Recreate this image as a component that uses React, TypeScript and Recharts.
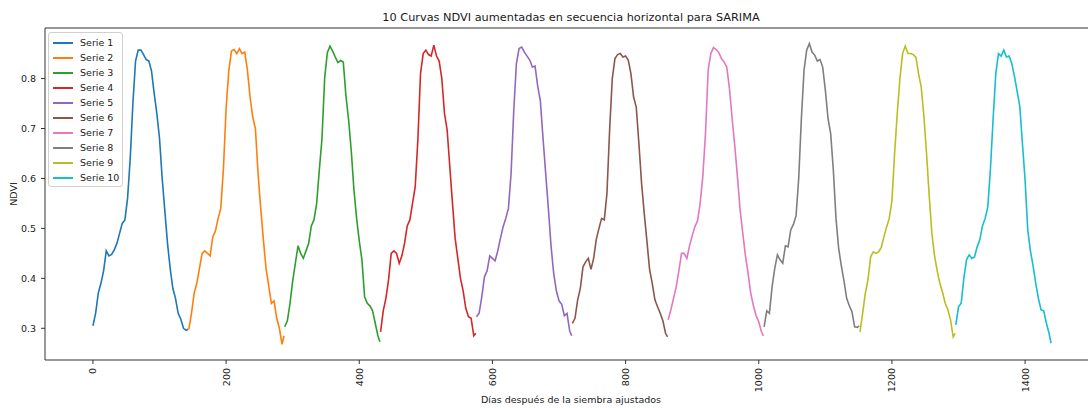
import { LineChart, Line, XAxis, YAxis, ReferenceLine } from 'recharts';

// días dentro de cada curva (cada curva ocupa 144 días)
const SEASON_LEN = 144;
const dayIndex = [0, 4, 8, 12, 16, 20, 24, 28, 32, 36, 40, 44, 48, 52, 56, 60, 64, 68, 72, 76, 80, 84, 88, 92, 96, 100, 104, 108, 112, 116, 120, 124, 128, 132, 136, 140, 143];

const serie1 = [0.305, 0.33, 0.37, 0.39, 0.415, 0.455, 0.445, 0.448, 0.457, 0.47, 0.49, 0.51, 0.517, 0.56, 0.64, 0.75, 0.835, 0.857, 0.857, 0.848, 0.838, 0.835, 0.815, 0.77, 0.73, 0.68, 0.6, 0.535, 0.47, 0.42, 0.38, 0.36, 0.33, 0.318, 0.3, 0.296, 0.298];
const serie2 = [0.298, 0.33, 0.37, 0.39, 0.42, 0.45, 0.455, 0.45, 0.445, 0.483, 0.495, 0.52, 0.54, 0.62, 0.74, 0.815, 0.855, 0.858, 0.85, 0.86, 0.85, 0.853, 0.817, 0.763, 0.723, 0.7, 0.61, 0.54, 0.477, 0.42, 0.385, 0.35, 0.355, 0.32, 0.3, 0.268, 0.285];
const serie3 = [0.303, 0.315, 0.35, 0.395, 0.43, 0.465, 0.45, 0.44, 0.455, 0.47, 0.505, 0.517, 0.55, 0.617, 0.68, 0.8, 0.852, 0.865, 0.855, 0.843, 0.832, 0.836, 0.833, 0.765, 0.717, 0.655, 0.577, 0.52, 0.475, 0.437, 0.363, 0.35, 0.345, 0.335, 0.31, 0.285, 0.273];
const serie4 = [0.293, 0.335, 0.36, 0.397, 0.45, 0.455, 0.45, 0.43, 0.445, 0.47, 0.505, 0.517, 0.55, 0.583, 0.677, 0.81, 0.85, 0.857, 0.848, 0.845, 0.867, 0.845, 0.835, 0.8, 0.73, 0.697, 0.623, 0.55, 0.48, 0.44, 0.4, 0.375, 0.34, 0.323, 0.32, 0.285, 0.29];
const serie5 = [0.323, 0.33, 0.363, 0.403, 0.415, 0.445, 0.44, 0.435, 0.455, 0.48, 0.503, 0.52, 0.54, 0.61, 0.735, 0.83, 0.86, 0.863, 0.853, 0.845, 0.837, 0.823, 0.825, 0.785, 0.755, 0.68, 0.61, 0.54, 0.465, 0.41, 0.375, 0.355, 0.348, 0.325, 0.33, 0.295, 0.285];
const serie6 = [0.31, 0.32, 0.357, 0.38, 0.423, 0.433, 0.44, 0.418, 0.44, 0.478, 0.5, 0.52, 0.517, 0.57, 0.697, 0.8, 0.84, 0.848, 0.85, 0.843, 0.845, 0.837, 0.81, 0.763, 0.743, 0.67, 0.59, 0.53, 0.475, 0.418, 0.39, 0.357, 0.343, 0.33, 0.315, 0.29, 0.283];
const serie7 = [0.317, 0.337, 0.36, 0.383, 0.415, 0.45, 0.45, 0.44, 0.465, 0.485, 0.503, 0.515, 0.55, 0.605, 0.69, 0.817, 0.85, 0.862, 0.858, 0.852, 0.84, 0.833, 0.823, 0.78, 0.72, 0.665, 0.603, 0.537, 0.49, 0.445, 0.41, 0.37, 0.345, 0.325, 0.313, 0.293, 0.285];
const serie8 = [0.303, 0.335, 0.33, 0.383, 0.42, 0.447, 0.437, 0.43, 0.465, 0.463, 0.497, 0.508, 0.525, 0.6, 0.72, 0.817, 0.857, 0.87, 0.853, 0.847, 0.835, 0.838, 0.823, 0.777, 0.72, 0.69, 0.617, 0.52, 0.46, 0.425, 0.395, 0.36, 0.345, 0.333, 0.303, 0.302, 0.305];
const serie9 = [0.293, 0.33, 0.37, 0.397, 0.443, 0.453, 0.45, 0.453, 0.462, 0.483, 0.503, 0.52, 0.555, 0.65, 0.73, 0.8, 0.85, 0.865, 0.85, 0.85, 0.848, 0.843, 0.81, 0.783, 0.725, 0.65, 0.565, 0.49, 0.445, 0.415, 0.39, 0.372, 0.35, 0.337, 0.317, 0.283, 0.29];
const serie10 = [0.307, 0.343, 0.35, 0.4, 0.437, 0.447, 0.44, 0.443, 0.463, 0.477, 0.505, 0.52, 0.543, 0.62, 0.72, 0.81, 0.85, 0.845, 0.857, 0.843, 0.845, 0.83, 0.805, 0.775, 0.745, 0.67, 0.597, 0.497, 0.455, 0.425, 0.39, 0.36, 0.337, 0.335, 0.31, 0.29, 0.27];

const seriesValues = [serie1, serie2, serie3, serie4, serie5, serie6, serie7, serie8, serie9, serie10];
const seriesNames = ['Serie 1', 'Serie 2', 'Serie 3', 'Serie 4', 'Serie 5', 'Serie 6', 'Serie 7', 'Serie 8', 'Serie 9', 'Serie 10'];
const seriesColors = ['#1f77b4', '#ff7f0e', '#2ca02c', '#d62728', '#9467bd', '#8c564b', '#e377c2', '#7f7f7f', '#bcbd22', '#17becf'];

const xTicks = [0, 200, 400, 600, 800, 1000, 1200, 1400];
const yTicks = [0.3, 0.4, 0.5, 0.6, 0.7, 0.8];

const X_DOMAIN = [-72, 1511];
const Y_DOMAIN = [0.2365, 0.9012];

const FONT = '"DejaVu Sans", sans-serif';
const TEXT = '#1a1a1a';

const seriesData = seriesValues.map((vals, k) =>
  vals.map((v, i) => ({ day: k * SEASON_LEN + dayIndex[i], ndvi: v }))
);

const XTick = ({ x, y, payload }: any) => (
  <text
    x={x}
    y={y}
    transform={`rotate(-90 ${x} ${y})`}
    textAnchor="end"
    dominantBaseline="central"
    fontSize={9.5}
    fontFamily={FONT}
    fill={TEXT}
  >
    {payload.value}
  </text>
);

export default function App() {
  return (
    <div style={{ position: 'absolute', left: 0, top: 0, width: 1088, height: 408, overflow: 'hidden', background: '#fff' }}>
      <LineChart width={1100} height={408} margin={{ top: 28, right: 1, bottom: 0, left: 0 }}>
        <XAxis
          dataKey="day"
          type="number"
          domain={X_DOMAIN}
          allowDataOverflow
          ticks={xTicks}
          height={48}
          stroke="#333"
          tickSize={4}
          tickMargin={4}
          tick={<XTick />}
        />
        <YAxis
          type="number"
          domain={Y_DOMAIN}
          allowDataOverflow
          ticks={yTicks}
          width={45}
          stroke="#333"
          tickSize={4}
          tickMargin={5}
          tickFormatter={(v: number) => v.toFixed(1)}
          tick={{ fontSize: 9.5, fontFamily: FONT, fill: TEXT }}
        />
        <ReferenceLine y={Y_DOMAIN[1]} stroke="#333" ifOverflow="visible" />
        {seriesData.map((d, k) => (
          <Line
            key={seriesNames[k]}
            data={d}
            dataKey="ndvi"
            name={seriesNames[k]}
            type="linear"
            stroke={seriesColors[k]}
            strokeWidth={1.6}
            dot={false}
            isAnimationActive={false}
          />
        ))}
      </LineChart>

      {/* título y etiquetas de ejes */}
      <div style={{ position: 'absolute', left: 0, width: 1142, top: 10, textAlign: 'center', fontFamily: FONT, fontSize: 11.3, color: TEXT, lineHeight: '16px' }}>
        10 Curvas NDVI aumentadas en secuencia horizontal para SARIMA
      </div>
      <div style={{ position: 'absolute', left: 0, width: 1142, top: 393, textAlign: 'center', fontFamily: FONT, fontSize: 9.5, color: TEXT, lineHeight: '14px' }}>
        Días después de la siembra ajustados
      </div>
      <div style={{ position: 'absolute', left: 13, top: 194, transform: 'translate(-50%, -50%) rotate(-90deg)', fontFamily: FONT, fontSize: 9.5, color: TEXT, whiteSpace: 'nowrap' }}>
        NDVI
      </div>

      {/* leyenda */}
      <div style={{ position: 'absolute', left: 48, top: 32, width: 73, height: 153, border: '1px solid #d0d0d0', borderRadius: 3, background: 'rgba(255,255,255,0.8)', fontFamily: FONT, fontSize: 9.5, color: TEXT }}>
        {seriesNames.map((name, k) => (
          <div key={name} style={{ position: 'absolute', left: 4, top: 2 + k * 15, height: 15, display: 'flex', alignItems: 'center' }}>
            <span style={{ display: 'inline-block', width: 20, height: 2, background: seriesColors[k], marginRight: 7 }} />
            <span>{name}</span>
          </div>
        ))}
      </div>
    </div>
  );
}
